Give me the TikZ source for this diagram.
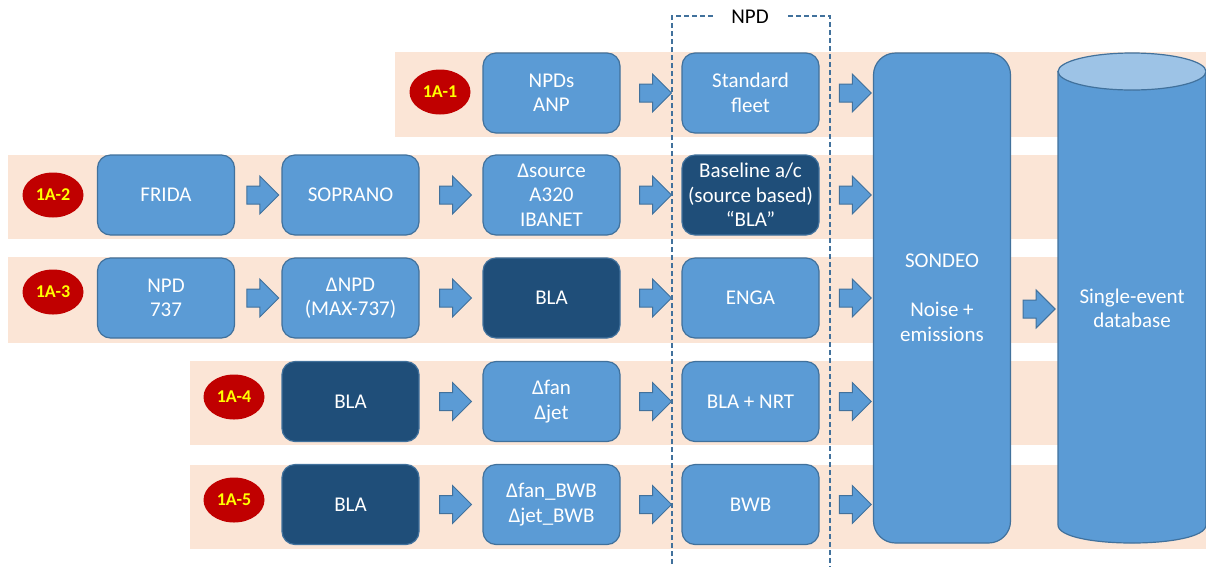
\documentclass[tikz,border=0pt]{standalone}
\usepackage{fontspec}
\setmainfont{Carlito}
\usetikzlibrary{shapes.geometric,shapes.arrows,calc}
\definecolor{boxblue}{HTML}{5B9BD5}
\definecolor{boxedge}{HTML}{41719C}
\definecolor{darkbox}{HTML}{1F4E79}
\definecolor{bandpeach}{HTML}{FBE5D6}
\definecolor{tagred}{HTML}{C00000}
\definecolor{tagyellow}{HTML}{FFFF00}
\definecolor{dbtop}{HTML}{9DC3E6}
\tikzset{
	stage/.style={rounded corners=13pt,fill=boxblue,draw=boxedge,line width=1.2pt,minimum width=137pt,minimum height=80pt,align=center,text=white,font=\fontsize{21}{24.5}\selectfont},
	darkstage/.style={stage,fill=darkbox},
	tag/.style={ellipse,fill=tagred,minimum width=61pt,minimum height=45pt,inner sep=0pt,text=tagyellow,font=\fontsize{18}{20}\selectfont\bfseries},
	flowarrow/.style={single arrow,fill=boxblue,draw=boxedge,line width=1pt,inner xsep=0pt,inner ysep=8.5pt,single arrow head extend=10pt,minimum height=32pt},
	band/.style={fill=bandpeach}
}
\newcommand{\flowarrow}[4][]{\node[flowarrow,#1] (#2) at ($(#3)!0.5!(#4)$) {};}
\begin{document}
\begin{tikzpicture}[x=1pt,y=-1pt]
				\useasboundingbox (0,0) rectangle (1206,566);
				% bands behind each chain
				\foreach \xl/\yt/\yb in {395/52/137,8/155/239,8/257/343,190/361/445,190/465/549}
					\fill[band] (\xl,\yt) rectangle (1206,\yb);
				% NPD frame
				\draw[boxedge,line width=1.2pt,dash pattern=on 5pt off 3pt] (672,572) -- (672,16) -- (830,16) -- (830,572);
				\node (npdlabel) at (750,17)[fill=white,inner xsep=17pt,font=\fontsize{21}{24}\selectfont]{NPD};
				% tags
				\node (t1) at (440,92)[tag]{1A-1};
				\node (t2) at (53,195)[tag]{1A-2};
				\node (t3) at (53,292)[tag]{1A-3};
				\node (t4) at (234,397)[tag]{1A-4};
				\node (t5) at (234,500)[tag]{1A-5};
				% row 1
				\node (r1c) at (551.5,93)[stage]{NPDs\\ANP};
				\node (r1d) at (750.5,93)[stage]{Standard\\fleet};
				% row 2
				\node (r2a) at (166,195)[stage]{FRIDA};
				\node (r2b) at (350.5,195)[stage]{SOPRANO};
				\node (r2c) at (551.5,195)[stage]{Δsource\\A320\\IBANET};
				\node (r2d) at (750.5,195)[darkstage]{Baseline a/c\\(source based)\\“BLA”};
				% row 3
				\node (r3a) at (166,298)[stage]{NPD\\737};
				\node (r3b) at (350.5,298)[stage]{ΔNPD\\(MAX-737)};
				\node (r3c) at (551.5,298)[darkstage]{BLA};
				\node (r3d) at (750.5,298)[stage]{ENGA};
				% row 4
				\node (r4b) at (350.5,401.5)[darkstage]{BLA};
				\node (r4c) at (551.5,401.5)[stage]{Δfan\\Δjet};
				\node (r4d) at (750.5,401.5)[stage]{BLA + NRT};
				% row 5
				\node (r5b) at (350.5,504.5)[darkstage]{BLA};
				\node (r5c) at (551.5,504.5)[stage]{Δfan\_BWB\\Δjet\_BWB};
				\node (r5d) at (750.5,504.5)[stage]{BWB};
				% SONDEO and database
				\node (sondeo) at (942,298)[stage,minimum height=490pt,rounded corners=22pt]{SONDEO\\[24.5pt]Noise +\\emissions};
				\filldraw[fill=boxblue,draw=boxedge,line width=1.2pt] (1058,71.5) -- (1058,525) .. controls (1058,549) and (1206,549) .. (1206,525) -- (1206,71.5) -- cycle;
				\filldraw[fill=dbtop,draw=boxedge,line width=1.2pt] (1132,71.5) ellipse [x radius=74pt,y radius=18.5pt];
				\node (db) at (1132,308.5)[align=center,text=white,font=\fontsize{21}{24.5}\selectfont]{Single-event\\database};
				\coordinate (dbin) at (1058,309);
				% arrows
				\flowarrow{a1c}{r1c.east}{r1d.west}
				\flowarrow[xshift=4.5pt]{a1d}{r1d.east}{r1d.east -| sondeo.west}
				\flowarrow{a2a}{r2a.east}{r2b.west}
				\flowarrow{a2b}{r2b.east}{r2c.west}
				\flowarrow{a2c}{r2c.east}{r2d.west}
				\flowarrow[xshift=4.5pt]{a2d}{r2d.east}{r2d.east -| sondeo.west}
				\flowarrow{a3a}{r3a.east}{r3b.west}
				\flowarrow{a3b}{r3b.east}{r3c.west}
				\flowarrow{a3c}{r3c.east}{r3d.west}
				\flowarrow[xshift=4.5pt]{a3d}{r3d.east}{r3d.east -| sondeo.west}
				\flowarrow{a4b}{r4b.east}{r4c.west}
				\flowarrow{a4c}{r4c.east}{r4d.west}
				\flowarrow[xshift=4.5pt]{a4d}{r4d.east}{r4d.east -| sondeo.west}
				\flowarrow{a5b}{r5b.east}{r5c.west}
				\flowarrow{a5c}{r5c.east}{r5d.west}
				\flowarrow[xshift=4.5pt]{a5d}{r5d.east}{r5d.east -| sondeo.west}
				\flowarrow{a6}{sondeo.east |- dbin}{dbin}
			\end{tikzpicture}
\end{document}
